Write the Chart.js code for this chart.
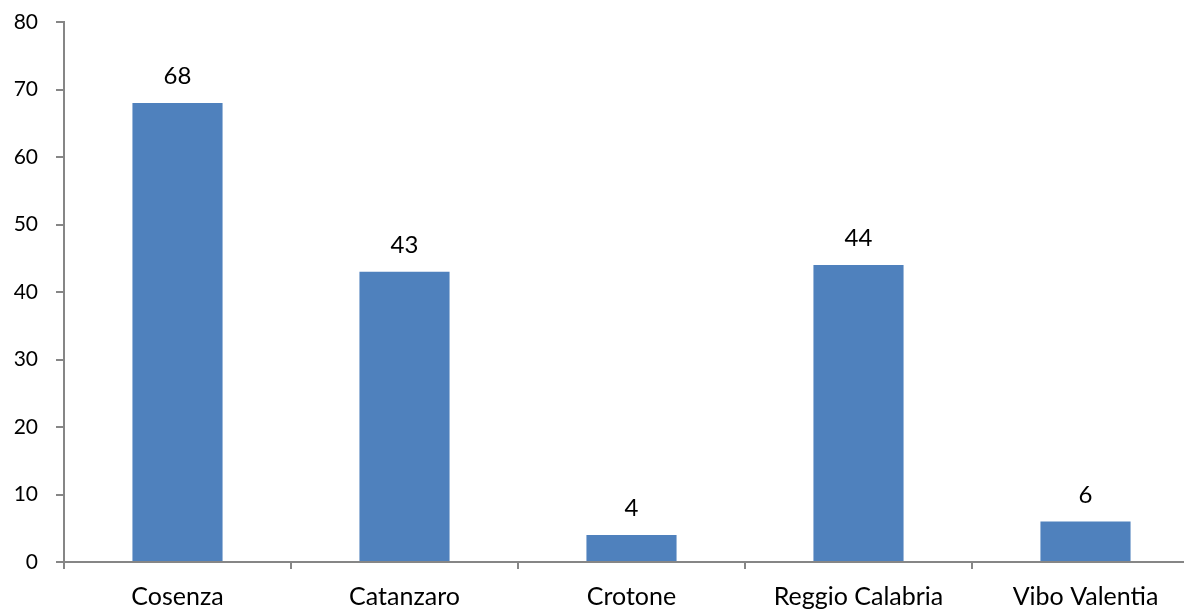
<!DOCTYPE html>
<html>
<head>
<meta charset="utf-8">
<script src="https://cdn.jsdelivr.net/npm/chart.js@4"></script>
<style>
  html, body { margin: 0; padding: 0; background: #fff; overflow: hidden; }
  #wrap { width: 1184px; height: 610px; overflow: hidden; }
  canvas { display: block; }
</style>
</head>
<body>
<div id="wrap"><canvas id="c" width="1200" height="610"></canvas></div>
<script>
// Provinces of Calabria and their counts
const categories = ['Cosenza', 'Catanzaro', 'Crotone', 'Reggio Calabria', 'Vibo Valentia'];
const values = [68, 43, 4, 44, 6];
const yTicks = [0, 10, 20, 30, 40, 50, 60, 70, 80];

const FONT = 'Lato, "Open Sans", sans-serif';
const AXIS = '#868686';
const BAR = '#4F81BD';

// Value printed above each bar
const valueLabels = {
  id: 'valueLabels',
  afterDatasetsDraw(chart) {
    const ctx = chart.ctx;
    const meta = chart.getDatasetMeta(0);
    ctx.save();
    ctx.font = '24px ' + FONT;
    ctx.fillStyle = '#000';
    ctx.textAlign = 'center';
    ctx.textBaseline = 'alphabetic';
    meta.data.forEach((bar, i) => {
      ctx.fillText(String(values[i]), bar.x, bar.y - 19);
    });
    ctx.restore();
  }
};

new Chart(document.getElementById('c'), {
  type: 'bar',
  data: {
    labels: categories,
    datasets: [{
      data: values,
      backgroundColor: BAR,
      borderWidth: 0,
      categoryPercentage: 1,
      barPercentage: 0.397
    }]
  },
  options: {
    responsive: false,
    animation: false,
    layout: { padding: { top: 22, right: 1, left: 0, bottom: 0 } },
    plugins: { legend: { display: false }, tooltip: { enabled: false } },
    scales: {
      x: {
        offset: true,
        grid: {
          offset: true,
          drawOnChartArea: false,
          drawTicks: true,
          tickLength: 7,
          color: AXIS,
          lineWidth: 2
        },
        border: { display: true, color: AXIS, width: 2 },
        ticks: {
          color: '#000',
          font: { family: FONT, size: 25 },
          padding: 13,
          maxRotation: 0,
          autoSkip: false
        },
        afterFit(axis) { axis.height = 48; axis.paddingLeft = 0; axis.paddingRight = 0; }
      },
      y: {
        min: 0,
        max: 80,
        afterBuildTicks(axis) { axis.ticks = yTicks.map(v => ({ value: v })); },
        grid: {
          drawOnChartArea: false,
          drawTicks: true,
          tickLength: 8,
          color: AXIS,
          lineWidth: 2
        },
        border: { display: true, color: AXIS, width: 2 },
        ticks: {
          color: '#000',
          font: { family: FONT, size: 21 },
          padding: 18
        },
        afterFit(axis) { axis.width = 64; axis.paddingTop = 0; axis.paddingBottom = 0; }
      }
    }
  },
  plugins: [valueLabels]
});
</script>
</body>
</html>
